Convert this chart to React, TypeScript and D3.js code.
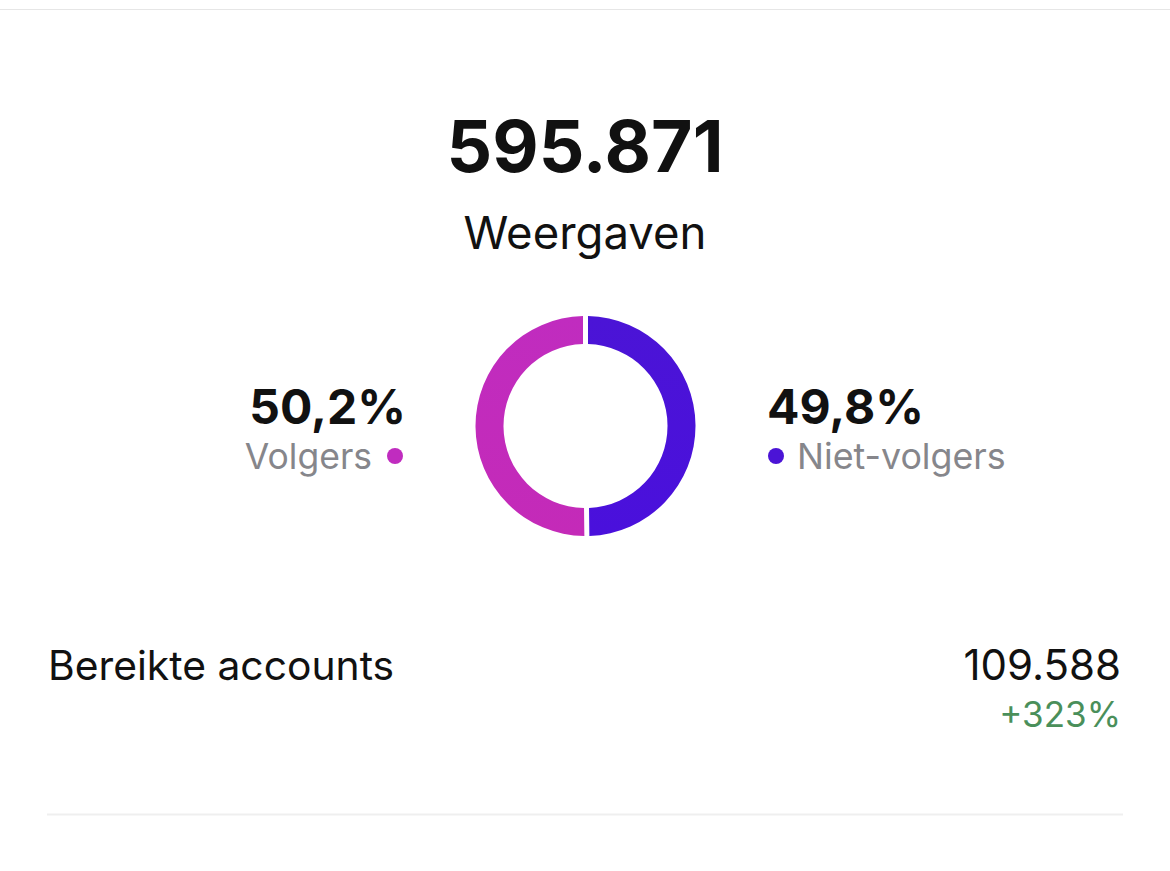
import React from "react";
import * as d3 from "d3";

const totalLabel = "595.871";
const totalCaption = "Weergaven";
const segments = ["Niet-volgers", "Volgers"];
const segmentValues = [49.8, 50.2];
const segmentLabels = ["49,8%", "50,2%"];
const segmentColors = ["#4b14d6", "#c02cbf"];
const segmentColorsEnd = ["#4a10dc", "#c42ab8"];
const metricName = "Bereikte accounts";
const metricValue = "109.588";
const metricChange = "+323%";

const W = 1170;
const H = 871;
const FONT = "Inter, 'Open Sans', sans-serif";

export default function App() {
  const cx = 585.5;
  const cy = 426;
  const outerR = 110;
  const innerR = 82;
  const padR = Math.sqrt(outerR * outerR + innerR * innerR);
  const pie = d3
    .pie<number>()
    .sort(null)
    .value((d) => d)
    .padAngle(5 / padR);
  const arcs = pie(segmentValues);
  const arc = d3.arc<d3.PieArcDatum<number>>().innerRadius(innerR).outerRadius(outerR);

  return (
    <svg
      width={W}
      height={H}
      style={{ position: "absolute", left: 0, top: 0, background: "#fff" }}
      fontFamily={FONT}
    >
      <defs>
        {segments.map((s, i) => (
          <linearGradient key={s} id={`g${i}`} x1="0" y1="0" x2="0" y2="1">
            <stop offset="0%" stopColor={segmentColors[i]} />
            <stop offset="100%" stopColor={segmentColorsEnd[i]} />
          </linearGradient>
        ))}
      </defs>
      <rect width={W} height={H} fill="#fff" />
      <line x1={0} x2={W} y1={9.5} y2={9.5} stroke="#e6e6e6" strokeWidth={1} />
      <text x={585} y={172} textAnchor="middle" fontSize={71.5} fontWeight={700} fill="#111">
        {totalLabel}
      </text>
      <text x={585} y={249} textAnchor="middle" fontSize={45.5} fill="#111">
        {totalCaption}
      </text>
      <g transform={`translate(${cx},${cy})`}>
        {arcs.map((a, i) => (
          <path key={segments[i]} d={arc(a) || ""} fill={`url(#g${i})`} />
        ))}
      </g>
      {/* Left: Volgers */}
      <text x={406} y={424} textAnchor="end" fontSize={48} fontWeight={700} fill="#111">
        {segmentLabels[1]}
      </text>
      <text x={372} y={469} textAnchor="end" fontSize={35.5} fill="#86868b">
        {segments[1]}
      </text>
      <circle cx={395} cy={456} r={8} fill={segmentColors[1]} />
      {/* Right: Niet-volgers */}
      <text x={767} y={424} textAnchor="start" fontSize={48} fontWeight={700} fill="#111">
        {segmentLabels[0]}
      </text>
      <circle cx={776} cy={456} r={8} fill={segmentColors[0]} />
      <text x={797} y={469} textAnchor="start" fontSize={35.8} fill="#86868b">
        {segments[0]}
      </text>
      {/* Metric */}
      <text x={48} y={680} fontSize={40.8} fill="#111">
        {metricName}
      </text>
      <text x={1121} y={680} textAnchor="end" fontSize={42} fill="#111">
        {metricValue}
      </text>
      <text x={1121} y={727} textAnchor="end" fontSize={35} fill="#4a8f5a">
        {metricChange}
      </text>
      <line x1={47} x2={1123} y1={814.5} y2={814.5} stroke="#efefef" strokeWidth={2} />
    </svg>
  );
}
